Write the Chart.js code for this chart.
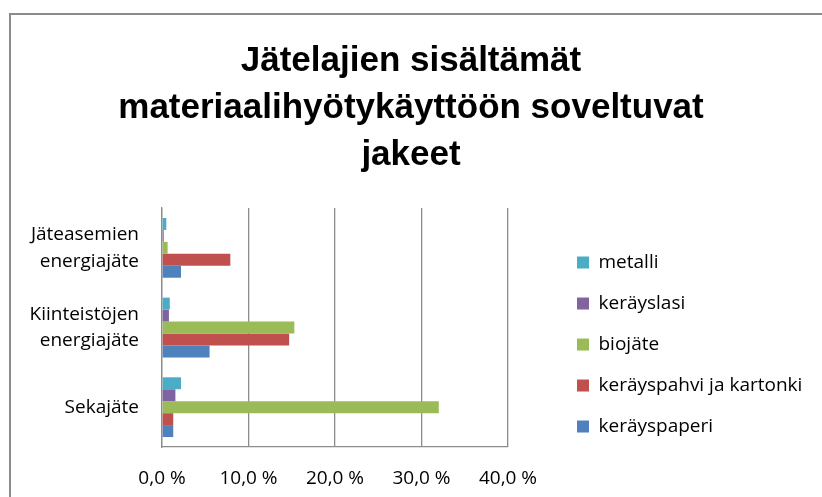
<!DOCTYPE html>
<html lang="fi">
<head>
    <meta charset="UTF-8">
    <title>Jätelajien sisältämät jakeet</title>
    <script src="https://cdn.jsdelivr.net/npm/chart.js"></script>
    <style>
        html, body {
            margin: 0;
            padding: 0;
            background: #fff;
            overflow: hidden;
        }

        #frame {
            position: absolute;
            left: 9px;
            top: 13px;
            width: 900px;
            height: 600px;
            border: 2px solid #8c8c8c;
        }

        #chart {
            position: absolute;
            left: 0;
            top: 0;
        }
    </style>
</head>
<body>
    <div id="frame"></div>
    <canvas id="chart" width="822" height="497"></canvas>

    <script>
        // Categories (top to bottom) and series values in %
        const categories = [
            ['Jäteasemien', 'energiajäte'],
            ['Kiinteistöjen', 'energiajäte'],
            'Sekajäte'
        ];
        const seriesNames = ['metalli', 'keräyslasi', 'biojäte', 'keräyspahvi ja kartonki', 'keräyspaperi'];
        const metalli = [0.5, 0.9, 2.2];
        const keraysLasi = [0.2, 0.8, 1.55];
        const biojate = [0.65, 15.3, 32.0];
        const keraysPahvi = [7.9, 14.7, 1.3];
        const keraysPaperi = [2.2, 5.5, 1.3];
        const xTicks = [0, 10, 20, 30, 40];

        const colors = ['#4bacc6', '#8064a2', '#9bbb59', '#c0504d', '#4f81bd'];
        const values = [metalli, keraysLasi, biojate, keraysPahvi, keraysPaperi];

        Chart.defaults.color = '#000';
        Chart.defaults.font.family = "'Open Sans', sans-serif";
        Chart.defaults.font.size = 19;

        // Legend: fixed width so the plot ends at 40 %, then placed beside the plot
        const legendTweak = {
            id: 'legendTweak',
            afterInit(chart) {
                const lg = chart.legend;
                const fit = lg.fit.bind(lg);
                lg.fit = function () {
                    fit();
                    this.width = 314;
                };
            },
            afterLayout(chart) {
                const lg = chart.legend;
                const area = chart.chartArea;
                lg.left = area.right + 47;
                lg.right = lg.left + lg.width;
                lg.top = area.top + 23;
                lg.bottom = lg.top + lg.height;
            }
        };

        new Chart(document.getElementById('chart'), {
            type: 'bar',
            data: {
                labels: categories,
                datasets: seriesNames.map((name, i) => ({
                    label: name,
                    data: values[i],
                    backgroundColor: colors[i],
                    borderWidth: 0,
                    categoryPercentage: 0.75,
                    barPercentage: 1.0
                }))
            },
            options: {
                indexAxis: 'y',
                responsive: false,
                animation: false,
                layout: {
                    padding: { left: 0, right: 0, top: 0, bottom: 7 }
                },
                scales: {
                    x: {
                        min: xTicks[0],
                        max: xTicks[xTicks.length - 1],
                        ticks: {
                            stepSize: 10,
                            padding: 20,
                            callback: (v) => v.toFixed(1).replace('.', ',') + ' %'
                        },
                        grid: {
                            color: '#8c8c8c',
                            lineWidth: 1.3,
                            drawTicks: false
                        },
                        border: { color: '#8c8c8c', width: 1.3 },
                        afterFit(scale) {
                            scale.height = 43;
                        }
                    },
                    y: {
                        ticks: {
                            padding: 15,
                            font: { lineHeight: 1.4 }
                        },
                        grid: { display: false },
                        border: { display: true, color: '#8c8c8c', width: 1.3 },
                        afterFit(scale) {
                            scale.width = 162;
                            scale.paddingTop = 0;
                            scale.paddingBottom = 0;
                        }
                    }
                },
                plugins: {
                    title: {
                        display: true,
                        text: ['Jätelajien sisältämät', 'materiaalihyötykäyttöön soveltuvat', 'jakeet'],
                        font: {
                            family: "'Liberation Sans', Arial, sans-serif",
                            size: 35,
                            weight: 'bold',
                            lineHeight: 1.343
                        },
                        padding: { top: 38, bottom: 29 }
                    },
                    legend: {
                        position: 'right',
                        align: 'start',
                        labels: {
                            boxWidth: 12,
                            boxHeight: 12,
                            padding: 22
                        }
                    },
                    tooltip: { enabled: false }
                }
            },
            plugins: [legendTweak]
        });
    </script>
</body>
</html>
